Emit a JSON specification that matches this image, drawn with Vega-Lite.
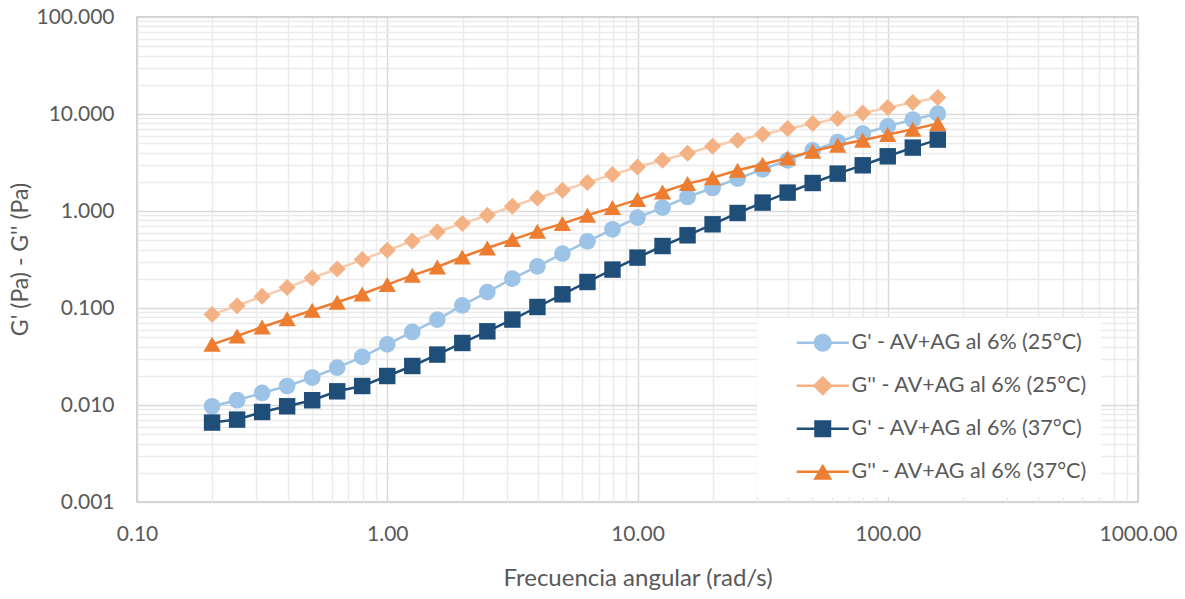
{
  "$schema": "https://vega.github.io/schema/vega-lite/v6.json",
  "width": 1001,
  "height": 485,
  "autosize": "none",
  "padding": {"left": 137, "top": 17, "right": 47, "bottom": 97},
  "background": "white",
  "config": {"view": {"stroke": "#bfbfbf", "strokeWidth": 1.5}, "font": "Lato"},
  "data": {"values": [
    {"w": 0.1995, "g": 0.0097, "s": "G' - AV+AG al 6% (25°C)"},
    {"w": 0.2512, "g": 0.0112, "s": "G' - AV+AG al 6% (25°C)"},
    {"w": 0.3162, "g": 0.0133, "s": "G' - AV+AG al 6% (25°C)"},
    {"w": 0.3981, "g": 0.0157, "s": "G' - AV+AG al 6% (25°C)"},
    {"w": 0.5012, "g": 0.0192, "s": "G' - AV+AG al 6% (25°C)"},
    {"w": 0.631, "g": 0.0243, "s": "G' - AV+AG al 6% (25°C)"},
    {"w": 0.7943, "g": 0.0313, "s": "G' - AV+AG al 6% (25°C)"},
    {"w": 1, "g": 0.0422, "s": "G' - AV+AG al 6% (25°C)"},
    {"w": 1.259, "g": 0.0566, "s": "G' - AV+AG al 6% (25°C)"},
    {"w": 1.585, "g": 0.076, "s": "G' - AV+AG al 6% (25°C)"},
    {"w": 1.995, "g": 0.1066, "s": "G' - AV+AG al 6% (25°C)"},
    {"w": 2.512, "g": 0.146, "s": "G' - AV+AG al 6% (25°C)"},
    {"w": 3.162, "g": 0.201, "s": "G' - AV+AG al 6% (25°C)"},
    {"w": 3.981, "g": 0.269, "s": "G' - AV+AG al 6% (25°C)"},
    {"w": 5.012, "g": 0.364, "s": "G' - AV+AG al 6% (25°C)"},
    {"w": 6.31, "g": 0.487, "s": "G' - AV+AG al 6% (25°C)"},
    {"w": 7.943, "g": 0.648, "s": "G' - AV+AG al 6% (25°C)"},
    {"w": 10, "g": 0.855, "s": "G' - AV+AG al 6% (25°C)"},
    {"w": 12.59, "g": 1.084, "s": "G' - AV+AG al 6% (25°C)"},
    {"w": 15.85, "g": 1.394, "s": "G' - AV+AG al 6% (25°C)"},
    {"w": 19.95, "g": 1.726, "s": "G' - AV+AG al 6% (25°C)"},
    {"w": 25.12, "g": 2.158, "s": "G' - AV+AG al 6% (25°C)"},
    {"w": 31.62, "g": 2.691, "s": "G' - AV+AG al 6% (25°C)"},
    {"w": 39.81, "g": 3.332, "s": "G' - AV+AG al 6% (25°C)"},
    {"w": 50.12, "g": 4.224, "s": "G' - AV+AG al 6% (25°C)"},
    {"w": 63.1, "g": 5.145, "s": "G' - AV+AG al 6% (25°C)"},
    {"w": 79.43, "g": 6.281, "s": "G' - AV+AG al 6% (25°C)"},
    {"w": 100, "g": 7.468, "s": "G' - AV+AG al 6% (25°C)"},
    {"w": 125.9, "g": 8.757, "s": "G' - AV+AG al 6% (25°C)"},
    {"w": 158.5, "g": 10.1, "s": "G' - AV+AG al 6% (25°C)"},
    {"w": 0.1995, "g": 0.0855, "s": "G'' - AV+AG al 6% (25°C)"},
    {"w": 0.2512, "g": 0.1054, "s": "G'' - AV+AG al 6% (25°C)"},
    {"w": 0.3162, "g": 0.132, "s": "G'' - AV+AG al 6% (25°C)"},
    {"w": 0.3981, "g": 0.1623, "s": "G'' - AV+AG al 6% (25°C)"},
    {"w": 0.5012, "g": 0.2039, "s": "G'' - AV+AG al 6% (25°C)"},
    {"w": 0.631, "g": 0.2524, "s": "G'' - AV+AG al 6% (25°C)"},
    {"w": 0.7943, "g": 0.3155, "s": "G'' - AV+AG al 6% (25°C)"},
    {"w": 1, "g": 0.3934, "s": "G'' - AV+AG al 6% (25°C)"},
    {"w": 1.259, "g": 0.4906, "s": "G'' - AV+AG al 6% (25°C)"},
    {"w": 1.585, "g": 0.6104, "s": "G'' - AV+AG al 6% (25°C)"},
    {"w": 1.995, "g": 0.7415, "s": "G'' - AV+AG al 6% (25°C)"},
    {"w": 2.512, "g": 0.9029, "s": "G'' - AV+AG al 6% (25°C)"},
    {"w": 3.162, "g": 1.118, "s": "G'' - AV+AG al 6% (25°C)"},
    {"w": 3.981, "g": 1.361, "s": "G'' - AV+AG al 6% (25°C)"},
    {"w": 5.012, "g": 1.635, "s": "G'' - AV+AG al 6% (25°C)"},
    {"w": 6.31, "g": 1.963, "s": "G'' - AV+AG al 6% (25°C)"},
    {"w": 7.943, "g": 2.373, "s": "G'' - AV+AG al 6% (25°C)"},
    {"w": 10, "g": 2.842, "s": "G'' - AV+AG al 6% (25°C)"},
    {"w": 12.59, "g": 3.332, "s": "G'' - AV+AG al 6% (25°C)"},
    {"w": 15.85, "g": 3.934, "s": "G'' - AV+AG al 6% (25°C)"},
    {"w": 19.95, "g": 4.645, "s": "G'' - AV+AG al 6% (25°C)"},
    {"w": 25.12, "g": 5.357, "s": "G'' - AV+AG al 6% (25°C)"},
    {"w": 31.62, "g": 6.177, "s": "G'' - AV+AG al 6% (25°C)"},
    {"w": 39.81, "g": 7.071, "s": "G'' - AV+AG al 6% (25°C)"},
    {"w": 50.12, "g": 7.962, "s": "G'' - AV+AG al 6% (25°C)"},
    {"w": 63.1, "g": 8.966, "s": "G'' - AV+AG al 6% (25°C)"},
    {"w": 79.43, "g": 10.24, "s": "G'' - AV+AG al 6% (25°C)"},
    {"w": 100, "g": 11.64, "s": "G'' - AV+AG al 6% (25°C)"},
    {"w": 125.9, "g": 13.11, "s": "G'' - AV+AG al 6% (25°C)"},
    {"w": 158.5, "g": 14.76, "s": "G'' - AV+AG al 6% (25°C)"},
    {"w": 0.1995, "g": 0.00659, "s": "G' - AV+AG al 6% (37°C)"},
    {"w": 0.2512, "g": 0.00707, "s": "G' - AV+AG al 6% (37°C)"},
    {"w": 0.3162, "g": 0.00847, "s": "G' - AV+AG al 6% (37°C)"},
    {"w": 0.3981, "g": 0.0097, "s": "G' - AV+AG al 6% (37°C)"},
    {"w": 0.5012, "g": 0.0112, "s": "G' - AV+AG al 6% (37°C)"},
    {"w": 0.631, "g": 0.01384, "s": "G' - AV+AG al 6% (37°C)"},
    {"w": 0.7943, "g": 0.0157, "s": "G' - AV+AG al 6% (37°C)"},
    {"w": 1, "g": 0.0199, "s": "G' - AV+AG al 6% (37°C)"},
    {"w": 1.259, "g": 0.02524, "s": "G' - AV+AG al 6% (37°C)"},
    {"w": 1.585, "g": 0.0331, "s": "G' - AV+AG al 6% (37°C)"},
    {"w": 1.995, "g": 0.0436, "s": "G' - AV+AG al 6% (37°C)"},
    {"w": 2.512, "g": 0.0575, "s": "G' - AV+AG al 6% (37°C)"},
    {"w": 3.162, "g": 0.076, "s": "G' - AV+AG al 6% (37°C)"},
    {"w": 3.981, "g": 0.1024, "s": "G' - AV+AG al 6% (37°C)"},
    {"w": 5.012, "g": 0.1384, "s": "G' - AV+AG al 6% (37°C)"},
    {"w": 6.31, "g": 0.1854, "s": "G' - AV+AG al 6% (37°C)"},
    {"w": 7.943, "g": 0.2488, "s": "G' - AV+AG al 6% (37°C)"},
    {"w": 10, "g": 0.3308, "s": "G' - AV+AG al 6% (37°C)"},
    {"w": 12.59, "g": 0.4356, "s": "G' - AV+AG al 6% (37°C)"},
    {"w": 15.85, "g": 0.5616, "s": "G' - AV+AG al 6% (37°C)"},
    {"w": 19.95, "g": 0.7294, "s": "G' - AV+AG al 6% (37°C)"},
    {"w": 25.12, "g": 0.9536, "s": "G' - AV+AG al 6% (37°C)"},
    {"w": 31.62, "g": 1.221, "s": "G' - AV+AG al 6% (37°C)"},
    {"w": 39.81, "g": 1.548, "s": "G' - AV+AG al 6% (37°C)"},
    {"w": 50.12, "g": 1.944, "s": "G' - AV+AG al 6% (37°C)"},
    {"w": 63.1, "g": 2.429, "s": "G' - AV+AG al 6% (37°C)"},
    {"w": 79.43, "g": 2.959, "s": "G' - AV+AG al 6% (37°C)"},
    {"w": 100, "g": 3.664, "s": "G' - AV+AG al 6% (37°C)"},
    {"w": 125.9, "g": 4.504, "s": "G' - AV+AG al 6% (37°C)"},
    {"w": 158.5, "g": 5.446, "s": "G' - AV+AG al 6% (37°C)"},
    {"w": 0.1995, "g": 0.0422, "s": "G'' - AV+AG al 6% (37°C)"},
    {"w": 0.2512, "g": 0.0514, "s": "G'' - AV+AG al 6% (37°C)"},
    {"w": 0.3162, "g": 0.0637, "s": "G'' - AV+AG al 6% (37°C)"},
    {"w": 0.3981, "g": 0.0774, "s": "G'' - AV+AG al 6% (37°C)"},
    {"w": 0.5012, "g": 0.0947, "s": "G'' - AV+AG al 6% (37°C)"},
    {"w": 0.631, "g": 0.1145, "s": "G'' - AV+AG al 6% (37°C)"},
    {"w": 0.7943, "g": 0.1394, "s": "G'' - AV+AG al 6% (37°C)"},
    {"w": 1, "g": 0.1743, "s": "G'' - AV+AG al 6% (37°C)"},
    {"w": 1.259, "g": 0.2173, "s": "G'' - AV+AG al 6% (37°C)"},
    {"w": 1.585, "g": 0.2647, "s": "G'' - AV+AG al 6% (37°C)"},
    {"w": 1.995, "g": 0.3355, "s": "G'' - AV+AG al 6% (37°C)"},
    {"w": 2.512, "g": 0.4155, "s": "G'' - AV+AG al 6% (37°C)"},
    {"w": 3.162, "g": 0.5072, "s": "G'' - AV+AG al 6% (37°C)"},
    {"w": 3.981, "g": 0.6175, "s": "G'' - AV+AG al 6% (37°C)"},
    {"w": 5.012, "g": 0.7415, "s": "G'' - AV+AG al 6% (37°C)"},
    {"w": 6.31, "g": 0.9029, "s": "G'' - AV+AG al 6% (37°C)"},
    {"w": 7.943, "g": 1.084, "s": "G'' - AV+AG al 6% (37°C)"},
    {"w": 10, "g": 1.311, "s": "G'' - AV+AG al 6% (37°C)"},
    {"w": 12.59, "g": 1.57, "s": "G'' - AV+AG al 6% (37°C)"},
    {"w": 15.85, "g": 1.917, "s": "G'' - AV+AG al 6% (37°C)"},
    {"w": 19.95, "g": 2.199, "s": "G'' - AV+AG al 6% (37°C)"},
    {"w": 25.12, "g": 2.628, "s": "G'' - AV+AG al 6% (37°C)"},
    {"w": 31.62, "g": 3.03, "s": "G'' - AV+AG al 6% (37°C)"},
    {"w": 39.81, "g": 3.519, "s": "G'' - AV+AG al 6% (37°C)"},
    {"w": 50.12, "g": 4.126, "s": "G'' - AV+AG al 6% (37°C)"},
    {"w": 63.1, "g": 4.757, "s": "G'' - AV+AG al 6% (37°C)"},
    {"w": 79.43, "g": 5.357, "s": "G'' - AV+AG al 6% (37°C)"},
    {"w": 100, "g": 6.133, "s": "G'' - AV+AG al 6% (37°C)"},
    {"w": 125.9, "g": 6.955, "s": "G'' - AV+AG al 6% (37°C)"},
    {"w": 158.5, "g": 7.962, "s": "G'' - AV+AG al 6% (37°C)"}
  ]},
  "encoding": {
    "x": {
      "field": "w", "type": "quantitative",
      "scale": {"type": "log", "domain": [0.1, 1000], "nice": false},
      "axis": {
        "title": "Frecuencia angular (rad/s)",
        "values": [0.1,0.2,0.3,0.4,0.5,0.6,0.7,0.8,0.9,1,2,3,4,5,6,7,8,9,10,20,30,40,50,60,70,80,90,100,200,300,400,500,600,700,800,900,1000],
        "format": ".2f",
        "labelExpr": "abs(log(datum.value)/LN10 - round(log(datum.value)/LN10)) < 0.001 ? datum.label : ''",
        "ticks": false, "domain": false, "grid": true,
        "gridColor": {"condition": {"test": "abs(log(datum.value)/LN10 - round(log(datum.value)/LN10)) < 0.001", "value": "#d9d9d9"}, "value": "#ebebeb"},
        "gridWidth": 1.5,
        "labelFont": "Lato", "labelFontSize": 21, "labelColor": "#595959", "labelPadding": 21,
        "labelOverlap": false, "labelBound": false, "labelFlush": false,
        "titleFont": "Lato", "titleFontSize": 24, "titleFontWeight": "normal", "titleColor": "#595959",
        "titleY": 76, "titleBaseline": "middle"
      }
    },
    "y": {
      "field": "g", "type": "quantitative",
      "scale": {"type": "log", "domain": [0.001, 100], "nice": false},
      "axis": {
        "title": "G' (Pa) - G'' (Pa)",
        "values": [0.001,0.002,0.003,0.004,0.005,0.006,0.007,0.008,0.009,0.01,0.02,0.03,0.04,0.05,0.06,0.07,0.08,0.09,0.1,0.2,0.3,0.4,0.5,0.6,0.7,0.8,0.9,1,2,3,4,5,6,7,8,9,10,20,30,40,50,60,70,80,90,100],
        "format": ".3f",
        "labelExpr": "abs(log(datum.value)/LN10 - round(log(datum.value)/LN10)) < 0.001 ? datum.label : ''",
        "ticks": false, "domain": false, "grid": true,
        "gridColor": {"condition": {"test": "abs(log(datum.value)/LN10 - round(log(datum.value)/LN10)) < 0.001", "value": "#d9d9d9"}, "value": "#ebebeb"},
        "gridWidth": 1.5,
        "labelFont": "Lato", "labelFontSize": 21, "labelColor": "#595959", "labelPadding": 23,
        "labelOverlap": false, "labelBound": false, "labelFlush": false,
        "titleFont": "Lato", "titleFontSize": 23, "titleFontWeight": "normal", "titleColor": "#595959",
        "titleAngle": -90, "titleX": -117, "titleY": 242, "titleAlign": "center", "titleBaseline": "middle"
      }
    }
  },
  "layer": [
    {
      "mark": {"type": "point", "filled": true, "opacity": 1, "size": 0},
      "encoding": {
        "color": {"field": "s", "type": "nominal",
          "scale": {"domain": ["G' - AV+AG al 6% (25°C)", "G'' - AV+AG al 6% (25°C)", "G' - AV+AG al 6% (37°C)", "G'' - AV+AG al 6% (37°C)"],
                    "range": ["#9DC3E6", "#F4B183", "#1F4E79", "#ED7D31"]},
          "legend": {
            "orient": "none", "legendX": 620, "legendY": 301, "title": null,
            "fillColor": "white", "padding": 14,
            "labelFont": "Lato", "labelFontSize": 21.5, "labelColor": "#595959", "labelLimit": 400,
            "symbolSize": 400, "symbolOffset": 41, "labelOffset": 18, "rowPadding": 20,
            "symbolStrokeWidth": 0, "symbolOpacity": 1
          }
        },
        "shape": {"field": "s", "type": "nominal",
          "scale": {"domain": ["G' - AV+AG al 6% (25°C)", "G'' - AV+AG al 6% (25°C)", "G' - AV+AG al 6% (37°C)", "G'' - AV+AG al 6% (37°C)"],
                    "range": ["M-2.6,-0.125H2.6V0.125H-2.6Z M0.9,0A0.9,0.9 0 1,1 -0.9,0A0.9,0.9 0 1,1 0.9,0Z", "M-2.6,-0.125H2.6V0.125H-2.6Z M0,-1L1,0L0,1L-1,0Z", "M-2.6,-0.125H2.6V0.125H-2.6Z M-0.85,-0.85H0.85V0.85H-0.85Z", "M-2.6,-0.125H2.6V0.125H-2.6Z M0,-0.8L0.95,0.8L-0.95,0.8Z"]}}
      }
    },
    {
      "transform": [{"filter": {"field": "s", "equal": "G' - AV+AG al 6% (25°C)"}}],
      "layer": [
        {"mark": {"type": "line", "strokeWidth": 2.5, "color": "#9DC3E6"}},
        {"mark": {"type": "point", "filled": true, "opacity": 1, "size": 280, "shape": "circle", "color": "#9DC3E6"}}
      ]
    },
    {
      "transform": [{"filter": {"field": "s", "equal": "G'' - AV+AG al 6% (25°C)"}}],
      "layer": [
        {"mark": {"type": "line", "strokeWidth": 2.5, "color": "#F8CBAD"}},
        {"mark": {"type": "point", "filled": true, "opacity": 1, "size": 290, "shape": "diamond", "color": "#F4B183"}}
      ]
    },
    {
      "transform": [{"filter": {"field": "s", "equal": "G' - AV+AG al 6% (37°C)"}}],
      "layer": [
        {"mark": {"type": "line", "strokeWidth": 2.5, "color": "#1F4E79"}},
        {"mark": {"type": "point", "filled": true, "opacity": 1, "size": 270, "shape": "square", "color": "#1F4E79"}}
      ]
    },
    {
      "transform": [{"filter": {"field": "s", "equal": "G'' - AV+AG al 6% (37°C)"}}],
      "layer": [
        {"mark": {"type": "line", "strokeWidth": 2.5, "color": "#ED7D31"}},
        {"mark": {"type": "point", "filled": true, "opacity": 1, "size": 300, "shape": "triangle-up", "color": "#ED7D31"}}
      ]
    }
  ]
}
